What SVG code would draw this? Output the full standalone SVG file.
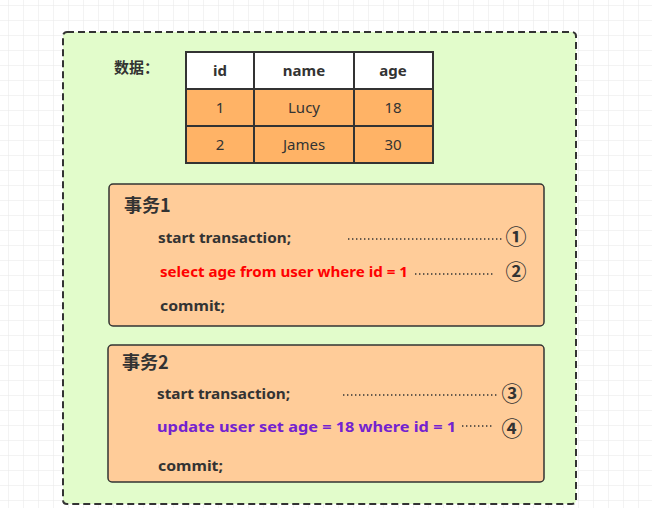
<svg xmlns="http://www.w3.org/2000/svg" width="652" height="508" viewBox="0 0 652 508">
<defs>
<pattern id="grid" x="8" y="5" width="15" height="15" patternUnits="userSpaceOnUse">
<path d="M0 0H15M0 0V15" fill="none" stroke="#e8e8e8" stroke-width="1"/>
</pattern>
</defs>
<style>
.t{font-family:"Noto Sans","Noto Sans CJK SC",sans-serif;fill:#333;}
.cjk{font-family:"Noto Sans CJK SC",sans-serif;fill:#333;}
.b{font-weight:bold;}
.hd{font-size:15px;font-weight:bold;text-anchor:middle;}
.cell{font-size:15px;text-anchor:middle;}
.code{font-size:15px;font-weight:bold;}
.num{font-family:"Noto Sans CJK SC",sans-serif;font-size:21px;font-weight:bold;fill:#333;text-anchor:middle;}
.dot{stroke:#333;stroke-width:1.4;stroke-dasharray:1.4 2.6;fill:none;}
.box{fill:#FFCC99;stroke:#333;stroke-width:1.5;}
.tc{stroke:#333;stroke-width:2;}
</style>
<rect width="652" height="508" fill="#fff"/>
<rect width="652" height="508" fill="url(#grid)"/>
<g id="container">
<rect x="63" y="32" width="513" height="472" rx="4" fill="#E2FCCB" stroke="#333" stroke-width="2" stroke-dasharray="7 4"/>
<text class="cjk b" x="114" y="73" font-size="15">数据：</text>
</g>
<g id="table">
<rect x="186" y="52" width="247" height="37" fill="#fff"/>
<rect x="186" y="89" width="247" height="74" fill="#FFB366"/>
<g class="tc" fill="none">
<rect x="186" y="52" width="247" height="111"/>
<line x1="254" y1="52" x2="254" y2="163"/>
<line x1="354" y1="52" x2="354" y2="163"/>
<line x1="186" y1="89" x2="433" y2="89"/>
<line x1="186" y1="126" x2="433" y2="126"/>
</g>
<text class="t hd" x="220" y="76">id</text>
<text class="t hd" x="304" y="76">name</text>
<text class="t hd" x="393" y="76">age</text>
<text class="t cell" x="220" y="113">1</text>
<text class="t cell" x="304" y="113">Lucy</text>
<text class="t cell" x="393" y="113">18</text>
<text class="t cell" x="220" y="150">2</text>
<text class="t cell" x="304" y="150">James</text>
<text class="t cell" x="393" y="150">30</text>
</g>
<g id="tx1">
<rect class="box" x="109" y="184" width="435" height="142" rx="4"/>
<text class="cjk b" x="124" y="212" font-size="18">事务1</text>
<text class="t code" x="158" y="243" textLength="133" lengthAdjust="spacingAndGlyphs">start transaction;</text>
<text class="t code" x="160" y="277" textLength="248" lengthAdjust="spacingAndGlyphs" style="fill:#FF0000">select age from user where id = 1</text>
<text class="t code" x="160" y="311" textLength="65" lengthAdjust="spacingAndGlyphs">commit;</text>
<text class="num" x="516" y="244">①</text>
<text class="num" x="516" y="279">②</text>
</g>
<g id="tx2">
<rect class="box" x="108" y="345" width="436" height="137" rx="4"/>
<text class="cjk b" x="122" y="369" font-size="18">事务2</text>
<text class="t code" x="157" y="399" textLength="133" lengthAdjust="spacingAndGlyphs">start transaction;</text>
<text class="t code" x="157" y="432" textLength="299" lengthAdjust="spacingAndGlyphs" style="fill:#7322D0">update user set age = 18 where id = 1</text>
<text class="t code" x="158" y="471" textLength="65" lengthAdjust="spacingAndGlyphs">commit;</text>
<text class="num" x="512" y="401">③</text>
<text class="num" x="512" y="436">④</text>
</g>
<g id="connectors">
<line class="dot" x1="348" y1="239" x2="504" y2="239"/>
<line class="dot" x1="415" y1="274" x2="495" y2="274"/>
<line class="dot" x1="343" y1="395" x2="499" y2="395"/>
<line class="dot" x1="462" y1="426" x2="493" y2="426"/>
</g>
</svg>
